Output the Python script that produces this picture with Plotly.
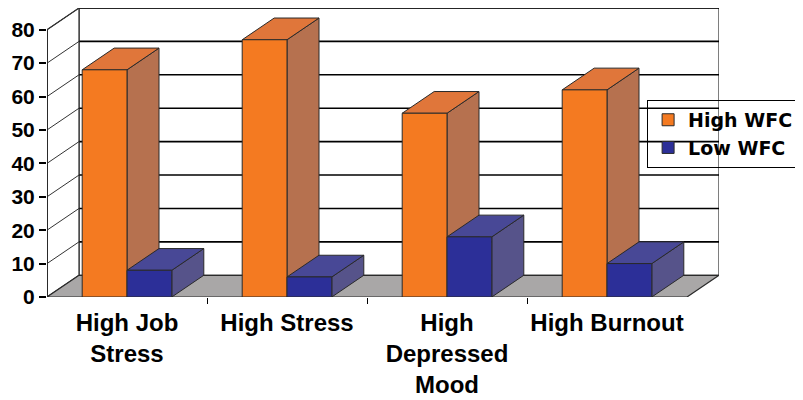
import plotly.graph_objects as go

categories = ["High Job<br>Stress", "High Stress", "High<br>Depressed<br>Mood", "High Burnout"]
high_wfc = [68, 77, 55, 62]
low_wfc = [8, 6, 18, 10]
y_ticks = [0, 10, 20, 30, 40, 50, 60, 70, 80]

# colours: front, top, side
orange = ["#F47A21", "#E0763A", "#B6714F"]
blue = ["#2C2F98", "#484896", "#56538A"]
floor_col = "#A9A7A7"
edge = "#2a2a2a"

DX = 0.2   # depth offset in category units
DY = 6.5   # depth offset in value units
W = 0.28   # bar width
YMAX = 80
x_idx = list(range(len(categories)))
x_lo, x_hi = -0.5, len(categories) - 0.5


def poly(pts):
    return "M " + " L ".join(f"{a},{b}" for a, b in pts) + " Z"


shapes = []
# back wall
shapes.append(dict(type="path", path=poly([(x_lo + DX, DY), (x_hi + DX, DY), (x_hi + DX, YMAX + DY), (x_lo + DX, YMAX + DY)]),
                   fillcolor="white", line=dict(color=edge, width=1.2)))
# back wall grid lines + side wall diagonals
for v in y_ticks[1:]:
    shapes.append(dict(type="line", x0=x_lo + DX, x1=x_hi + DX, y0=v + DY, y1=v + DY,
                       line=dict(color="black", width=1.6)))
shapes.append(dict(type="path", path=poly([(x_lo, 0), (x_lo + DX, DY), (x_lo + DX, YMAX + DY), (x_lo, YMAX)]),
                   fillcolor="white", line=dict(color=edge, width=1.2)))
for v in y_ticks[1:]:
    shapes.append(dict(type="line", x0=x_lo, x1=x_lo + DX, y0=v, y1=v + DY,
                       line=dict(color="#333333", width=1)))
# floor
shapes.append(dict(type="path", path=poly([(x_lo, 0), (x_hi, 0), (x_hi + DX, DY), (x_lo + DX, DY)]),
                   fillcolor=floor_col, line=dict(color=edge, width=1.2)))
# front axis line
shapes.append(dict(type="line", x0=x_lo, x1=x_lo, y0=0, y1=YMAX, line=dict(color=edge, width=2)))

# 3d tops and sides of the bars
for i in x_idx:
    for vals, cols, off in [(high_wfc, orange, -W), (low_wfc, blue, 0)]:
        v = vals[i]
        a = i + off
        b = a + W
        shapes.append(dict(type="path", path=poly([(b, 0), (b + DX, DY), (b + DX, v + DY), (b, v)]),
                           fillcolor=cols[2], line=dict(color=edge, width=1)))
        shapes.append(dict(type="path", path=poly([(a, v), (b, v), (b + DX, v + DY), (a + DX, v + DY)]),
                           fillcolor=cols[1], line=dict(color=edge, width=1)))
for s in shapes:
    s.update(xref="x", yref="y", layer="below")

fig = go.Figure()
fig.add_trace(go.Bar(x=x_idx, y=high_wfc, name="High WFC", width=W, offset=-W,
                     marker=dict(color=orange[0], line=dict(color=edge, width=1))))
fig.add_trace(go.Bar(x=x_idx, y=low_wfc, name="Low WFC", width=W, offset=0,
                     marker=dict(color=blue[0], line=dict(color=edge, width=1))))

# page body adds 8px, so the figure is a bit smaller than the window
fig.update_layout(
    width=795, height=392,
    margin=dict(l=39, r=84, t=0, b=103, autoexpand=False),
    barmode="overlay",
    plot_bgcolor="white", paper_bgcolor="white",
    shapes=shapes,
    showlegend=True,
    legend=dict(x=0.893, y=0.682, xanchor="left", yanchor="top",
                bgcolor="rgba(0,0,0,0)", bordercolor="black", borderwidth=1,
                font=dict(family="DejaVu Sans", size=19, color="black", weight="bold"),
                tracegroupgap=0),
    font=dict(family="Arial, Liberation Sans", color="black"),
)
fig.update_xaxes(range=[x_lo, x_hi + DX], tickvals=x_idx, ticktext=categories, automargin=False,
                 showgrid=False, zeroline=False, showline=False, ticks="", ticklabelstandoff=9,
                 tickfont=dict(size=24, weight="bold", color="black"),
                 minor=dict(tickvals=[i + 0.5 for i in x_idx[:-1]], ticks="outside", ticklen=6,
                            tickcolor="black", tickwidth=1))
fig.update_yaxes(range=[0, YMAX + DY], tickvals=y_ticks, automargin=False,
                 showgrid=False, zeroline=False, showline=False,
                 ticks="outside", ticklen=7, tickcolor="black", tickwidth=1.5,
                 tickfont=dict(size=21, weight="bold", color="black"))

fig.write_html("out.html")
